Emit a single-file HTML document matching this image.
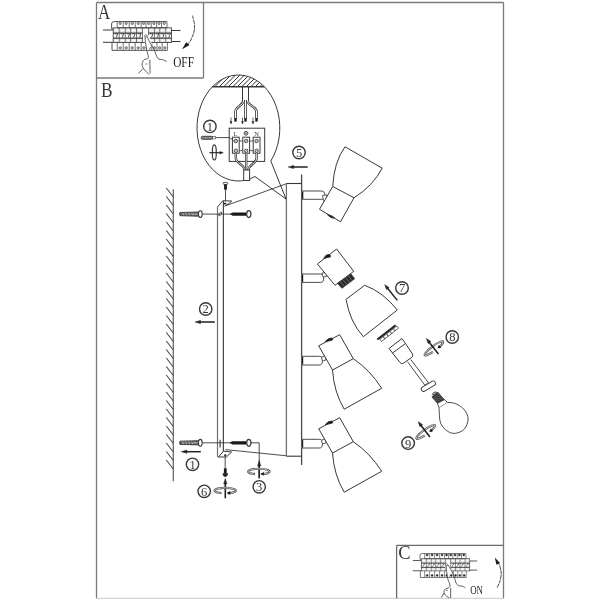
<!DOCTYPE html>
<html><head><meta charset="utf-8"><style>
html,body{margin:0;padding:0;background:#fff;}
svg{display:block;filter:grayscale(1);}
</style></head><body>
<svg width="600" height="600" viewBox="0 0 600 600">
<rect width="600" height="600" fill="#fff"/>
<line x1="96.5" y1="2.5" x2="503.5" y2="2.5" stroke="#7a7a7a" stroke-width="1.3" />
<line x1="96.5" y1="2.5" x2="96.5" y2="598.4" stroke="#7a7a7a" stroke-width="1.3" />
<line x1="503.5" y1="2.5" x2="503.5" y2="598.4" stroke="#7a7a7a" stroke-width="1.3" />
<line x1="96.5" y1="598.4" x2="503.5" y2="598.4" stroke="#d4d4d4" stroke-width="1.2" />
<line x1="96.5" y1="78" x2="203.5" y2="78" stroke="#7a7a7a" stroke-width="1.3" />
<line x1="203.5" y1="2.5" x2="203.5" y2="78" stroke="#7a7a7a" stroke-width="1.3" />
<line x1="396.6" y1="545.3" x2="503.5" y2="545.3" stroke="#6a6a6a" stroke-width="1.3" />
<line x1="396.6" y1="545.3" x2="396.6" y2="598.4" stroke="#6a6a6a" stroke-width="1.3" />
<text x="0" y="0" font-family="Liberation Serif" font-size="20" fill="#383838" transform="translate(98,19.2) scale(0.85,1)">A</text>
<text x="0" y="0" font-family="Liberation Serif" font-size="20.6" fill="#383838" transform="translate(101,96.7) scale(0.84,1)">B</text>
<text x="0" y="0" font-family="Liberation Serif" font-size="19" fill="#383838" transform="translate(398.3,558.6) scale(0.97,1)">C</text>
<line x1="173.3" y1="189.3" x2="173.3" y2="481.3" stroke="#6a6a6a" stroke-width="1.3" />
<line x1="166.3" y1="188.0" x2="173.3" y2="197.0" stroke="#4a4a4a" stroke-width="1.1" />
<line x1="166.3" y1="196.5" x2="173.3" y2="205.5" stroke="#4a4a4a" stroke-width="1.1" />
<line x1="166.3" y1="205.0" x2="173.3" y2="214.0" stroke="#4a4a4a" stroke-width="1.1" />
<line x1="166.3" y1="213.5" x2="173.3" y2="222.5" stroke="#4a4a4a" stroke-width="1.1" />
<line x1="166.3" y1="222.0" x2="173.3" y2="231.0" stroke="#4a4a4a" stroke-width="1.1" />
<line x1="166.3" y1="230.5" x2="173.3" y2="239.5" stroke="#4a4a4a" stroke-width="1.1" />
<line x1="166.3" y1="239.0" x2="173.3" y2="248.0" stroke="#4a4a4a" stroke-width="1.1" />
<line x1="166.3" y1="247.5" x2="173.3" y2="256.5" stroke="#4a4a4a" stroke-width="1.1" />
<line x1="166.3" y1="256.0" x2="173.3" y2="265.0" stroke="#4a4a4a" stroke-width="1.1" />
<line x1="166.3" y1="264.5" x2="173.3" y2="273.5" stroke="#4a4a4a" stroke-width="1.1" />
<line x1="166.3" y1="273.0" x2="173.3" y2="282.0" stroke="#4a4a4a" stroke-width="1.1" />
<line x1="166.3" y1="281.5" x2="173.3" y2="290.5" stroke="#4a4a4a" stroke-width="1.1" />
<line x1="166.3" y1="290.0" x2="173.3" y2="299.0" stroke="#4a4a4a" stroke-width="1.1" />
<line x1="166.3" y1="298.5" x2="173.3" y2="307.5" stroke="#4a4a4a" stroke-width="1.1" />
<line x1="166.3" y1="307.0" x2="173.3" y2="316.0" stroke="#4a4a4a" stroke-width="1.1" />
<line x1="166.3" y1="315.5" x2="173.3" y2="324.5" stroke="#4a4a4a" stroke-width="1.1" />
<line x1="166.3" y1="324.0" x2="173.3" y2="333.0" stroke="#4a4a4a" stroke-width="1.1" />
<line x1="166.3" y1="332.5" x2="173.3" y2="341.5" stroke="#4a4a4a" stroke-width="1.1" />
<line x1="166.3" y1="341.0" x2="173.3" y2="350.0" stroke="#4a4a4a" stroke-width="1.1" />
<line x1="166.3" y1="349.5" x2="173.3" y2="358.5" stroke="#4a4a4a" stroke-width="1.1" />
<line x1="166.3" y1="358.0" x2="173.3" y2="367.0" stroke="#4a4a4a" stroke-width="1.1" />
<line x1="166.3" y1="366.5" x2="173.3" y2="375.5" stroke="#4a4a4a" stroke-width="1.1" />
<line x1="166.3" y1="375.0" x2="173.3" y2="384.0" stroke="#4a4a4a" stroke-width="1.1" />
<line x1="166.3" y1="383.5" x2="173.3" y2="392.5" stroke="#4a4a4a" stroke-width="1.1" />
<line x1="166.3" y1="392.0" x2="173.3" y2="401.0" stroke="#4a4a4a" stroke-width="1.1" />
<line x1="166.3" y1="400.5" x2="173.3" y2="409.5" stroke="#4a4a4a" stroke-width="1.1" />
<line x1="166.3" y1="409.0" x2="173.3" y2="418.0" stroke="#4a4a4a" stroke-width="1.1" />
<line x1="166.3" y1="417.5" x2="173.3" y2="426.5" stroke="#4a4a4a" stroke-width="1.1" />
<line x1="166.3" y1="426.0" x2="173.3" y2="435.0" stroke="#4a4a4a" stroke-width="1.1" />
<line x1="166.3" y1="434.5" x2="173.3" y2="443.5" stroke="#4a4a4a" stroke-width="1.1" />
<line x1="166.3" y1="443.0" x2="173.3" y2="452.0" stroke="#4a4a4a" stroke-width="1.1" />
<line x1="166.3" y1="451.5" x2="173.3" y2="460.5" stroke="#4a4a4a" stroke-width="1.1" />
<line x1="166.3" y1="460.0" x2="173.3" y2="469.0" stroke="#4a4a4a" stroke-width="1.1" />
<line x1="217.5" y1="207" x2="217.5" y2="456.2" stroke="#6e6e6e" stroke-width="1.2" />
<line x1="223.4" y1="201" x2="223.4" y2="451.2" stroke="#474747" stroke-width="1.2" />
<path d="M217.5,456.2 Q217.5,457 218.4,457 L226.4,457 L231.6,452 L223.4,451.2 L218.4,457" stroke="#383838" stroke-width="1" fill="none" />
<ellipse cx="225.3" cy="455" rx="1.35" ry="0.85" fill="#1a1a1a"/>
<path d="M217.5,207 L222.7,200.8 L231.7,201 L229.5,203.3 L224.5,206.2" stroke="#383838" stroke-width="1" fill="none" />
<ellipse cx="220.2" cy="214" rx="0.9" ry="2.2" transform="rotate(35 220.2 214)" fill="none" stroke="#383838" stroke-width="0.8"/>
<line x1="220.1" y1="439.8" x2="220.1" y2="447.6" stroke="#383838" stroke-width="1.1" />
<rect x="223.7" y="202.8" width="2.6" height="1.6" fill="#1a1a1a"/>
<line x1="226" y1="205.6" x2="287" y2="183.5" stroke="#383838" stroke-width="0.9" />
<line x1="225.3" y1="449.6" x2="286.5" y2="455.8" stroke="#383838" stroke-width="0.9" />
<line x1="286.4" y1="183.5" x2="286.4" y2="456.2" stroke="#707070" stroke-width="1.3" />
<line x1="301.6" y1="174.4" x2="301.6" y2="465" stroke="#4a4a4a" stroke-width="1.3" />
<line x1="286.5" y1="183.5" x2="301.5" y2="183.5" stroke="#383838" stroke-width="1.1" />
<line x1="286.5" y1="456.2" x2="301.5" y2="456.2" stroke="#383838" stroke-width="1.1" />
<line x1="225.5" y1="189.7" x2="225.5" y2="201" stroke="#383838" stroke-width="0.9" />
<rect x="223.2" y="182.4" width="4.6" height="2" rx="0.8" fill="#fff" stroke="#383838" stroke-width="0.8"/>
<rect x="224.1" y="184.3" width="2.8" height="5.4" fill="#1a1a1a"/>
<line x1="202.3" y1="214.1" x2="232.3" y2="214.1" stroke="#383838" stroke-width="0.9" />
<path d="M180,212.5 L198.5,212.0 L198.5,216.2 L180,215.7 Q179,214.1 180,212.5 Z" fill="#666" stroke="#383838" stroke-width="0.9"/>
<line x1="182.5" y1="212.9" x2="183.7" y2="215.29999999999998" stroke="#ddd" stroke-width="0.7"/>
<line x1="185.5" y1="212.9" x2="186.7" y2="215.29999999999998" stroke="#ddd" stroke-width="0.7"/>
<line x1="188.5" y1="212.9" x2="189.7" y2="215.29999999999998" stroke="#ddd" stroke-width="0.7"/>
<line x1="191.5" y1="212.9" x2="192.7" y2="215.29999999999998" stroke="#ddd" stroke-width="0.7"/>
<line x1="193" y1="214.1" x2="198" y2="214.1" stroke="#ccc" stroke-width="0.8"/>
<ellipse cx="200.3" cy="214.1" rx="1.9" ry="3.4" fill="#fff" stroke="#383838" stroke-width="1.1"/>
<path d="M230,214.1 L232.6,212.5 L246.7,212.5 L246.7,215.7 L232.6,215.7 Z" fill="#1a1a1a"/>
<ellipse cx="248.8" cy="214.1" rx="2.1" ry="3.5" fill="#fff" stroke="#383838" stroke-width="1.2"/>
<line x1="202.3" y1="442.8" x2="232.3" y2="442.8" stroke="#383838" stroke-width="0.9" />
<path d="M180,441.2 L198.5,440.7 L198.5,444.90000000000003 L180,444.40000000000003 Q179,442.8 180,441.2 Z" fill="#666" stroke="#383838" stroke-width="0.9"/>
<line x1="182.5" y1="441.6" x2="183.7" y2="444.0" stroke="#ddd" stroke-width="0.7"/>
<line x1="185.5" y1="441.6" x2="186.7" y2="444.0" stroke="#ddd" stroke-width="0.7"/>
<line x1="188.5" y1="441.6" x2="189.7" y2="444.0" stroke="#ddd" stroke-width="0.7"/>
<line x1="191.5" y1="441.6" x2="192.7" y2="444.0" stroke="#ddd" stroke-width="0.7"/>
<line x1="193" y1="442.8" x2="198" y2="442.8" stroke="#ccc" stroke-width="0.8"/>
<ellipse cx="200.3" cy="442.8" rx="1.9" ry="3.4" fill="#fff" stroke="#383838" stroke-width="1.1"/>
<path d="M229.6,442.8 L232.4,441.2 L246.7,441.2 L246.7,444.4 L232.4,444.4 Z" fill="#1a1a1a"/>
<ellipse cx="248.8" cy="442.8" rx="2.1" ry="3.5" fill="#fff" stroke="#383838" stroke-width="1.2"/>
<path d="M251,442.8 L259.2,442.8 L259.2,478.3" stroke="#383838" stroke-width="0.9" fill="none" />
<line x1="225.2" y1="455" x2="225.2" y2="468.5" stroke="#383838" stroke-width="0.9" />
<rect x="223.9" y="468.3" width="2.8" height="5.5" fill="#1a1a1a"/>
<path d="M223,473.5 L227.5,473.5 Q227.5,476.5 225.2,476.5 Q223,476.5 223,473.5 Z" stroke="#383838" stroke-width="1" fill="#1a1a1a" />
<line x1="200.8" y1="451.7" x2="185.8" y2="451.7" stroke="#222" stroke-width="1.5" />
<polygon points="181.3,451.7 186.8,450.09999999999997 186.8,453.3" stroke="#222" stroke-width="0.5" fill="#222" stroke-linejoin="round"/>
<circle cx="192.5" cy="464.3" r="6.2" stroke="#383838" stroke-width="1.4" fill="#fff"/>
<text x="192.5" y="468.7" font-family="Liberation Serif" font-size="12.5" text-anchor="middle" fill="#383838" >1</text>
<line x1="214.8" y1="322" x2="199.5" y2="322.0" stroke="#222" stroke-width="1.5" />
<polygon points="195,322 200.5,320.4 200.5,323.6" stroke="#222" stroke-width="0.5" fill="#222" stroke-linejoin="round"/>
<circle cx="205.7" cy="309" r="6.2" stroke="#383838" stroke-width="1.4" fill="#fff"/>
<text x="205.7" y="313.4" font-family="Liberation Serif" font-size="12.5" text-anchor="middle" fill="#383838" >2</text>
<line x1="307.7" y1="167" x2="292.7" y2="167.0" stroke="#222" stroke-width="1.5" />
<polygon points="288.2,167 293.7,165.4 293.7,168.6" stroke="#222" stroke-width="0.5" fill="#222" stroke-linejoin="round"/>
<circle cx="299" cy="152.5" r="6.2" stroke="#383838" stroke-width="1.4" fill="#fff"/>
<text x="299" y="156.9" font-family="Liberation Serif" font-size="12.5" text-anchor="middle" fill="#383838" >5</text>
<line x1="259.2" y1="478.3" x2="259.2" y2="465.0" stroke="#222" stroke-width="1.6" />
<polygon points="259.2,460.5 260.8,466.0 257.59999999999997,466.0" stroke="#222" stroke-width="0.5" fill="#222" stroke-linejoin="round"/>
<g transform="rotate(0 259 471.5)"><path d="M254.934,474.16 A10.7,2.8 0 1 1 261.354,474.272" fill="none" stroke="#444" stroke-width="2.1"/><path d="M254.934,474.16 A10.7,2.8 0 1 1 261.354,474.272" fill="none" stroke="#fff" stroke-width="0.7"/><path d="M254.934,474.16 q-1.2,-0.3 -0.6,-1.4" fill="none" stroke="#444" stroke-width="0.9"/><path d="M260.284,473.88 l3.6,-1.9 l0,3.6 z" fill="#1a1a1a"/></g>
<circle cx="259.2" cy="486.8" r="6.2" stroke="#383838" stroke-width="1.4" fill="#fff"/>
<text x="259.2" y="491.2" font-family="Liberation Serif" font-size="12.5" text-anchor="middle" fill="#383838" >3</text>
<line x1="225.3" y1="498.3" x2="225.3" y2="483.0" stroke="#222" stroke-width="1.6" />
<polygon points="225.3,478.5 226.9,484.0 223.70000000000002,484.0" stroke="#222" stroke-width="0.5" fill="#222" stroke-linejoin="round"/>
<g transform="rotate(0 225.4 490.6)"><path d="M221.334,493.26000000000005 A10.7,2.8 0 1 1 227.75400000000002,493.372" fill="none" stroke="#444" stroke-width="2.1"/><path d="M221.334,493.26000000000005 A10.7,2.8 0 1 1 227.75400000000002,493.372" fill="none" stroke="#fff" stroke-width="0.7"/><path d="M221.334,493.26000000000005 q-1.2,-0.3 -0.6,-1.4" fill="none" stroke="#444" stroke-width="0.9"/><path d="M226.684,492.98 l3.6,-1.9 l0,3.6 z" fill="#1a1a1a"/></g>
<circle cx="204.2" cy="491.3" r="6.2" stroke="#383838" stroke-width="1.4" fill="#fff"/>
<text x="204.2" y="495.7" font-family="Liberation Serif" font-size="12.5" text-anchor="middle" fill="#383838" >6</text>
<path d="M255.0,176.55 A41.4,53 0 1 1 270.8,160.99" fill="none" stroke="#383838" stroke-width="1"/>
<line x1="255.0" y1="176.55" x2="286" y2="199" stroke="#383838" stroke-width="1" />
<line x1="270.8" y1="160.99" x2="286" y2="199" stroke="#383838" stroke-width="1" />
<clipPath id="ceil"><path d="M212.36,86.8 A41.4,53 0 0 1 264.44,86.8 Z"/></clipPath>
<g clip-path="url(#ceil)" stroke="#333" stroke-width="1.0"><line x1="200.0" y1="88" x2="214.0" y2="74" /><line x1="204.5" y1="88" x2="218.5" y2="74" /><line x1="209.0" y1="88" x2="223.0" y2="74" /><line x1="213.5" y1="88" x2="227.5" y2="74" /><line x1="218.0" y1="88" x2="232.0" y2="74" /><line x1="222.5" y1="88" x2="236.5" y2="74" /><line x1="227.0" y1="88" x2="241.0" y2="74" /><line x1="231.5" y1="88" x2="245.5" y2="74" /><line x1="236.0" y1="88" x2="250.0" y2="74" /><line x1="240.5" y1="88" x2="254.5" y2="74" /><line x1="245.0" y1="88" x2="259.0" y2="74" /><line x1="249.5" y1="88" x2="263.5" y2="74" /><line x1="254.0" y1="88" x2="268.0" y2="74" /><line x1="258.5" y1="88" x2="272.5" y2="74" /><line x1="263.0" y1="88" x2="277.0" y2="74" /><line x1="267.5" y1="88" x2="281.5" y2="74" /></g>
<line x1="212.36" y1="86.8" x2="264.44" y2="86.8" stroke="#383838" stroke-width="1.5" />
<line x1="242.5" y1="86.8" x2="242.5" y2="100.5" stroke="#383838" stroke-width="1" />
<line x1="248.5" y1="86.8" x2="248.5" y2="100.5" stroke="#383838" stroke-width="1" />
<path d="M243.6,100 C243.6,106 235.5,106 235.5,112 L235.5,118.5" fill="none" stroke="#383838" stroke-width="2.6" stroke-linecap="butt"/>
<path d="M243.6,100 C243.6,106 235.5,106 235.5,112 L235.5,118.5" fill="none" stroke="#fff" stroke-width="1.0" stroke-linecap="butt"/>
<path d="M245.5,100 L245.5,118.5" fill="none" stroke="#383838" stroke-width="2.6" stroke-linecap="butt"/>
<path d="M245.5,100 L245.5,118.5" fill="none" stroke="#fff" stroke-width="1.0" stroke-linecap="butt"/>
<path d="M247.4,100 C247.4,106 256.5,106 256.5,112 L256.5,118.5" fill="none" stroke="#383838" stroke-width="2.6" stroke-linecap="butt"/>
<path d="M247.4,100 C247.4,106 256.5,106 256.5,112 L256.5,118.5" fill="none" stroke="#fff" stroke-width="1.0" stroke-linecap="butt"/>
<rect x="234.3" y="118" width="2.4" height="3.6" fill="#1a1a1a"/>
<rect x="244.3" y="118" width="2.4" height="3.6" fill="#1a1a1a"/>
<rect x="255.3" y="118" width="2.4" height="3.6" fill="#1a1a1a"/>
<line x1="231" y1="117.5" x2="231.0" y2="122.5" stroke="#222" stroke-width="0.7" />
<polygon points="231,124 230.1,121.5 231.9,121.5" stroke="#222" stroke-width="0.5" fill="#222" stroke-linejoin="round"/>
<line x1="242.5" y1="117.5" x2="242.5" y2="122.5" stroke="#222" stroke-width="0.7" />
<polygon points="242.5,124 241.6,121.5 243.4,121.5" stroke="#222" stroke-width="0.5" fill="#222" stroke-linejoin="round"/>
<line x1="253" y1="117.5" x2="253.0" y2="122.5" stroke="#222" stroke-width="0.7" />
<polygon points="253,124 252.1,121.5 253.9,121.5" stroke="#222" stroke-width="0.5" fill="#222" stroke-linejoin="round"/>
<rect x="229.2" y="128.2" width="35.5" height="33.2" fill="#fff" stroke="#383838" stroke-width="1"/>
<text x="235.6" y="135.8" font-family="Liberation Serif" font-size="6.5" text-anchor="middle" fill="#383838" >L</text>
<circle cx="246" cy="133.3" r="1.9" fill="#fff" stroke="#383838" stroke-width="0.9"/>
<line x1="244.8" y1="133.3" x2="247.2" y2="133.3" stroke="#383838" stroke-width="0.6" />
<line x1="246" y1="132.1" x2="246" y2="134.5" stroke="#383838" stroke-width="0.6" />
<text x="256.6" y="135.8" font-family="Liberation Serif" font-size="6.5" text-anchor="middle" fill="#383838" >N</text>
<line x1="232.4" y1="141" x2="260" y2="141" stroke="#383838" stroke-width="0.8" />
<line x1="232.4" y1="150.6" x2="260" y2="150.6" stroke="#383838" stroke-width="0.8" />
<rect x="232.4" y="137.2" width="6.8" height="16" fill="#fff" stroke="#383838" stroke-width="1"/>
<circle cx="235.8" cy="141" r="1.7" fill="#fff" stroke="#383838" stroke-width="0.9"/>
<line x1="234.70000000000002" y1="142.1" x2="236.9" y2="139.9" stroke="#383838" stroke-width="0.6" />
<circle cx="235.8" cy="150.8" r="1.7" fill="#fff" stroke="#383838" stroke-width="0.9"/>
<line x1="234.70000000000002" y1="151.9" x2="236.9" y2="149.70000000000002" stroke="#383838" stroke-width="0.6" />
<rect x="242.8" y="137.2" width="6.8" height="16" fill="#fff" stroke="#383838" stroke-width="1"/>
<circle cx="246.20000000000002" cy="141" r="1.7" fill="#fff" stroke="#383838" stroke-width="0.9"/>
<line x1="245.10000000000002" y1="142.1" x2="247.3" y2="139.9" stroke="#383838" stroke-width="0.6" />
<circle cx="246.20000000000002" cy="150.8" r="1.7" fill="#fff" stroke="#383838" stroke-width="0.9"/>
<line x1="245.10000000000002" y1="151.9" x2="247.3" y2="149.70000000000002" stroke="#383838" stroke-width="0.6" />
<rect x="253.2" y="137.2" width="6.8" height="16" fill="#fff" stroke="#383838" stroke-width="1"/>
<circle cx="256.59999999999997" cy="141" r="1.7" fill="#fff" stroke="#383838" stroke-width="0.9"/>
<line x1="255.5" y1="142.1" x2="257.7" y2="139.9" stroke="#383838" stroke-width="0.6" />
<circle cx="256.59999999999997" cy="150.8" r="1.7" fill="#fff" stroke="#383838" stroke-width="0.9"/>
<line x1="255.5" y1="151.9" x2="257.7" y2="149.70000000000002" stroke="#383838" stroke-width="0.6" />
<path d="M235.8,153.2 L235.8,158 C235.8,164 244.5,164 244.5,170" fill="none" stroke="#383838" stroke-width="2.4" stroke-linecap="butt"/>
<path d="M235.8,153.2 L235.8,158 C235.8,164 244.5,164 244.5,170" fill="none" stroke="#fff" stroke-width="0.7999999999999998" stroke-linecap="butt"/>
<path d="M246.2,153.2 L246.2,170" fill="none" stroke="#383838" stroke-width="2.4" stroke-linecap="butt"/>
<path d="M246.2,153.2 L246.2,170" fill="none" stroke="#fff" stroke-width="0.7999999999999998" stroke-linecap="butt"/>
<path d="M256.6,153.2 L256.6,158 C256.6,164 248.6,164 248.6,170" fill="none" stroke="#383838" stroke-width="2.4" stroke-linecap="butt"/>
<path d="M256.6,153.2 L256.6,158 C256.6,164 248.6,164 248.6,170" fill="none" stroke="#fff" stroke-width="0.7999999999999998" stroke-linecap="butt"/>
<rect x="243.7" y="170" width="5.9" height="10.5" fill="#fff" stroke="#383838" stroke-width="1"/>
<rect x="201.2" y="136.3" width="11.6" height="3" rx="1.4" fill="#8a8a8a" stroke="#333" stroke-width="0.9"/>
<rect x="212.6" y="136.5" width="2.8" height="2.4" fill="#fff" stroke="#383838" stroke-width="0.6"/>
<line x1="215.4" y1="137.6" x2="229.5" y2="137.6" stroke="#383838" stroke-width="0.9" />
<line x1="229.5" y1="137.6" x2="233.6" y2="140.6" stroke="#383838" stroke-width="0.8" />
<circle cx="209.9" cy="126.4" r="6.2" stroke="#383838" stroke-width="1.4" fill="#fff"/>
<text x="209.9" y="130.8" font-family="Liberation Serif" font-size="12.5" text-anchor="middle" fill="#383838" >1</text>
<ellipse cx="214.3" cy="152.4" rx="2" ry="7.6" fill="none" stroke="#383838" stroke-width="1.2"/>
<line x1="209.3" y1="152.7" x2="220.8" y2="152.7" stroke="#222" stroke-width="1.1" />
<polygon points="223.3,152.7 219.8,154.0 219.8,151.39999999999998" stroke="#222" stroke-width="0.5" fill="#222" stroke-linejoin="round"/>
<path d="M301.8,191 L321.7,191 Q324.7,191 324.7,195.15 Q324.7,199.3 321.7,199.3 L301.8,199.3" fill="#fff" stroke="#383838" stroke-width="0.9"/>
<rect x="301.8" y="191.5" width="1.5" height="7.300000000000011" fill="#1a1a1a"/>
<polygon points="322.5,195.5 326.5,194.8 327.5,199.5 323.5,200.8" stroke="#383838" stroke-width="0.8" fill="#fff" stroke-linejoin="round"/>
<path d="M332.7,186.5 Q334,162 345,146.75 L382.2,168.2 Q373,186 354,197.75" stroke="#383838" stroke-width="1" fill="#fff" />
<polygon points="332.7,186.5 354,197.75 340.5,221.75 319.5,209.3" stroke="#383838" stroke-width="1" fill="#fff" stroke-linejoin="round"/>
<path d="M327,214.3 Q331,219 334.5,218 L333,216.5 Z" stroke="#383838" stroke-width="1" fill="#1a1a1a" />
<path d="M301.7,274 L320.7,274 Q323.7,274 323.7,278.2 Q323.7,282.4 320.7,282.4 L301.7,282.4" fill="#fff" stroke="#383838" stroke-width="0.9"/>
<rect x="301.7" y="274.5" width="1.5" height="7.399999999999977" fill="#1a1a1a"/>
<polygon points="322,273 326,272.5 326.5,276.5 323,277" stroke="#383838" stroke-width="0.8" fill="#fff" stroke-linejoin="round"/>
<polygon points="336.6,249 353.7,271.3 335,285.3 317.4,264" stroke="#383838" stroke-width="1" fill="#fff" stroke-linejoin="round"/>
<polygon points="337.4,283.3 351,274 354.7,278.7 342,288.3" stroke="#383838" stroke-width="0.8" fill="#2a2a2a" stroke-linejoin="round"/>
<line x1="340.12" y1="281.44" x2="344.54" y2="286.38" stroke="#999" stroke-width="0.6"/>
<line x1="342.84" y1="279.58" x2="347.08" y2="284.46" stroke="#999" stroke-width="0.6"/>
<line x1="345.56" y1="277.72" x2="349.62" y2="282.54" stroke="#999" stroke-width="0.6"/>
<line x1="348.28" y1="275.86" x2="352.16" y2="280.62" stroke="#999" stroke-width="0.6"/>
<path d="M323.8,258.4 Q325.5,254.2 329.8,254.5 L330.6,256.8 Z" stroke="#383838" stroke-width="1" fill="#1a1a1a" />
<path d="M301.7,356.3 L319.5,356.3 Q322.5,356.3 322.5,360.65 Q322.5,365 319.5,365 L301.7,365" fill="#fff" stroke="#383838" stroke-width="0.9"/>
<rect x="301.7" y="356.8" width="1.5" height="7.699999999999989" fill="#1a1a1a"/>
<polygon points="321.5,357 325,356 326,360 322.5,361" stroke="#383838" stroke-width="0.8" fill="#fff" stroke-linejoin="round"/>
<path d="M332.5,370 Q334,392 344.2,409.2 L381.7,388.3 Q370,370 353.3,358.7" stroke="#383838" stroke-width="1" fill="#fff" />
<polygon points="318.7,345.8 339.7,334.7 353.3,358.7 332.5,370" stroke="#383838" stroke-width="1" fill="#fff" stroke-linejoin="round"/>
<path d="M325,341.8 Q328,337.5 332.5,338 L332.5,340 Z" stroke="#383838" stroke-width="1" fill="#1a1a1a" />
<path d="M301.7,439.3 L319.5,439.3 Q322.5,439.3 322.5,443.65 Q322.5,448 319.5,448 L301.7,448" fill="#fff" stroke="#383838" stroke-width="0.9"/>
<rect x="301.7" y="439.8" width="1.5" height="7.699999999999989" fill="#1a1a1a"/>
<polygon points="321.5,440 325,439 326,443 322.5,444" stroke="#383838" stroke-width="0.8" fill="#fff" stroke-linejoin="round"/>
<path d="M332.5,453 Q334,475 344.2,492.2 L381.7,471.3 Q370,453 353.3,441.7" stroke="#383838" stroke-width="1" fill="#fff" />
<polygon points="318.7,428.8 339.7,417.7 353.3,441.7 332.5,453" stroke="#383838" stroke-width="1" fill="#fff" stroke-linejoin="round"/>
<path d="M325,424.8 Q328,420.5 332.5,421 L332.5,423 Z" stroke="#383838" stroke-width="1" fill="#1a1a1a" />
<path d="M364.7,285.3 L346,299.3 Q350,322 363.3,336.7 L397.3,310 Q383,292 364.7,285.3 Z" stroke="#383838" stroke-width="1" fill="#fff" />
<line x1="397.3" y1="300.4" x2="387.20362353069845" y2="287.81959439936236" stroke="#222" stroke-width="1.5" />
<polygon points="384.7,284.7 389.077367173118,287.59804358692355 386.5816916536281,289.6009424114823" stroke="#222" stroke-width="0.5" fill="#222" stroke-linejoin="round"/>
<circle cx="402" cy="288" r="6.3" stroke="#383838" stroke-width="1.4" fill="#fff"/>
<text x="402" y="292.4" font-family="Liberation Serif" font-size="12.5" text-anchor="middle" fill="#383838" >7</text>
<polygon points="379.8,339.3 396.8,326.0 398.5,328.2 381.5,341.5" stroke="#383838" stroke-width="0.8" fill="#fff" stroke-linejoin="round"/>
<line x1="383.2" y1="336.64" x2="384.9" y2="338.84" stroke="#333" stroke-width="1.0" />
<line x1="386.6" y1="333.98" x2="388.3" y2="336.18" stroke="#333" stroke-width="1.0" />
<line x1="390.0" y1="331.32" x2="391.7" y2="333.52" stroke="#333" stroke-width="1.0" />
<line x1="393.40000000000003" y1="328.66" x2="395.1" y2="330.86" stroke="#333" stroke-width="1.0" />
<line x1="377.3" y1="339.6" x2="395.6" y2="325.3" stroke="#222" stroke-width="1.9" />
<path d="M392.5,353 L400,362.5 Q401.5,364.5 403.5,363.2 L411.5,357.5 Q413.5,356 412.5,354 L405.5,343.5" stroke="#383838" stroke-width="1" fill="#fff" />
<path d="M389,348.5 L402,338.5 L405.5,343.5 L392.5,353 Z" stroke="#383838" stroke-width="1" fill="#fff" />
<path d="M407.5,361.7 L425,385.4 M410.8,359.6 L428.3,382.5" stroke="#383838" stroke-width="0.9" fill="none" />
<rect x="420.4" y="383.9" width="15.8" height="4.6" rx="2.3" transform="rotate(-31 428.3 386.2)" fill="#fff" stroke="#383838" stroke-width="0.9"/>
<line x1="425" y1="385.4" x2="428.3" y2="382.5" stroke="#383838" stroke-width="0.9" />
<path d="M432.3,394.5 Q433,391.5 436.5,392 L437.5,393.5 Z" fill="#fff" stroke="#383838" stroke-width="0.9"/>
<polygon points="431.9,396.9 437.8,392.3 444.3,399.7 437.4,403.3" stroke="#383838" stroke-width="0.9" fill="#333" stroke-linejoin="round"/>
<line x1="433.0" y1="398.18" x2="439.1" y2="393.78000000000003" stroke="#888" stroke-width="0.5" />
<line x1="434.09999999999997" y1="399.46" x2="440.40000000000003" y2="395.26" stroke="#888" stroke-width="0.5" />
<line x1="435.2" y1="400.74" x2="441.7" y2="396.74" stroke="#888" stroke-width="0.5" />
<line x1="436.29999999999995" y1="402.02" x2="443.0" y2="398.21999999999997" stroke="#888" stroke-width="0.5" />
<polygon points="437.4,403.3 444.3,399.7 447.5,402.4 439.2,408" stroke="#383838" stroke-width="0.9" fill="#fff" stroke-linejoin="round"/>
<path d="M439.20,408.00 C439.22,408.83 439.03,410.42 439.30,413.00 C439.57,415.58 439.43,420.47 440.80,423.50 C442.17,426.53 445.08,429.57 447.50,431.20 C449.92,432.83 452.52,433.63 455.30,433.30 C458.08,432.97 462.07,431.58 464.20,429.20 C466.33,426.82 468.07,422.23 468.10,419.00 C468.13,415.77 466.45,412.35 464.40,409.80 C462.35,407.25 458.62,404.93 455.80,403.70 C452.98,402.47 448.88,402.62 447.50,402.40" fill="#fff" stroke="#383838" stroke-width="0.9"/>
<g transform="rotate(-36.6 434.3 348)"><path d="M430.88,350.4 A11.4,2.4 0 1 1 437.72,350.328" fill="none" stroke="#444" stroke-width="2.1"/><path d="M430.88,350.4 A11.4,2.4 0 1 1 437.72,350.328" fill="none" stroke="#fff" stroke-width="0.7"/><path d="M436.58,350.16 l3.4,-1.9 l0,3.6 z" fill="#1a1a1a"/></g>
<line x1="438.4" y1="353.9" x2="428.8585983070499" y2="341.65520116071406" stroke="#222" stroke-width="1.6" />
<polygon points="426.4,338.5 430.81420837711585,341.3990971703964 428.13228739050885,343.4889057313888" stroke="#222" stroke-width="0.5" fill="#222" stroke-linejoin="round"/>
<circle cx="452.25" cy="337" r="6.2" stroke="#383838" stroke-width="1.4" fill="#fff"/>
<text x="452.25" y="341.4" font-family="Liberation Serif" font-size="12.5" text-anchor="middle" fill="#383838" >8</text>
<g transform="rotate(-35.8 426.1 431.5)"><path d="M422.68,433.9 A11.4,2.4 0 1 1 429.52000000000004,433.828" fill="none" stroke="#444" stroke-width="2.1"/><path d="M422.68,433.9 A11.4,2.4 0 1 1 429.52000000000004,433.828" fill="none" stroke="#fff" stroke-width="0.7"/><path d="M428.38,433.66 l3.4,-1.9 l0,3.6 z" fill="#1a1a1a"/></g>
<line x1="429.9" y1="437.1" x2="420.66822733682847" y2="424.9362480360787" stroke="#222" stroke-width="1.6" />
<polygon points="418.25,421.75 422.6269395863691,424.7050634269463 419.9186287557021,426.7605566632505" stroke="#222" stroke-width="0.5" fill="#222" stroke-linejoin="round"/>
<circle cx="408.1" cy="443.1" r="6.3" stroke="#383838" stroke-width="1.4" fill="#fff"/>
<text x="408.1" y="447.5" font-family="Liberation Serif" font-size="12.5" text-anchor="middle" fill="#383838" >9</text>
<g transform="translate(111.6,21.25)"><line x1="-8.6" y1="8.75" x2="1.6" y2="8.75" stroke="#383838" stroke-width="1"/><line x1="-8.6" y1="21.05" x2="1.6" y2="21.05" stroke="#383838" stroke-width="1"/><line x1="59.9" y1="9.25" x2="68.9" y2="9.25" stroke="#383838" stroke-width="1"/><line x1="59.9" y1="20.25" x2="68.9" y2="20.25" stroke="#383838" stroke-width="1"/><path d="M0,7.6 L0,2.6 Q0,0.3 2.6,0.3 L55.4,0.3 M0,7.6 L1.6,7.6 M0.4,21.3 L0.4,29.1 L55.8,29.1" fill="none" stroke="#383838" stroke-width="0.85"/><rect x="1.6" y="6.6" width="58.3" height="14.6" fill="#fff" stroke="#383838" stroke-width="0.85"/><line x1="5.6" y1="0.3" x2="5.6" y2="6.6" stroke="#383838" stroke-width="0.7"/><line x1="11.6" y1="0.3" x2="11.6" y2="6.6" stroke="#383838" stroke-width="0.7"/><line x1="17.6" y1="0.3" x2="17.6" y2="6.6" stroke="#383838" stroke-width="0.7"/><line x1="23.6" y1="0.3" x2="23.6" y2="6.6" stroke="#383838" stroke-width="0.7"/><line x1="29.6" y1="0.3" x2="29.6" y2="6.6" stroke="#383838" stroke-width="0.7"/><line x1="34.4" y1="0.3" x2="34.4" y2="6.6" stroke="#383838" stroke-width="0.7"/><line x1="39.6" y1="0.3" x2="39.6" y2="6.6" stroke="#383838" stroke-width="0.7"/><line x1="45" y1="0.3" x2="45" y2="6.6" stroke="#383838" stroke-width="0.7"/><line x1="50" y1="0.3" x2="50" y2="6.6" stroke="#383838" stroke-width="0.7"/><line x1="55.4" y1="0.3" x2="55.4" y2="6.6" stroke="#383838" stroke-width="0.7"/><line x1="5.6" y1="6.6" x2="55.4" y2="6.6" stroke="#383838" stroke-width="0.8"/><circle cx="8.6" cy="2.1" r="1.15" fill="#fff" stroke="#383838" stroke-width="0.75"/><circle cx="8.6" cy="2.1" r="0.45" fill="#222"/><circle cx="14.600000000000001" cy="2.1" r="1.15" fill="#fff" stroke="#383838" stroke-width="0.75"/><circle cx="14.600000000000001" cy="2.1" r="0.45" fill="#222"/><circle cx="20.6" cy="2.1" r="1.15" fill="#fff" stroke="#383838" stroke-width="0.75"/><circle cx="20.6" cy="2.1" r="0.45" fill="#222"/><circle cx="26.6" cy="2.1" r="1.15" fill="#fff" stroke="#383838" stroke-width="0.75"/><circle cx="26.6" cy="2.1" r="0.45" fill="#222"/><circle cx="32.0" cy="2.1" r="1.15" fill="#fff" stroke="#383838" stroke-width="0.75"/><circle cx="32.0" cy="2.1" r="0.45" fill="#222"/><circle cx="37.0" cy="2.1" r="1.15" fill="#fff" stroke="#383838" stroke-width="0.75"/><circle cx="37.0" cy="2.1" r="0.45" fill="#222"/><circle cx="42.3" cy="2.1" r="1.15" fill="#fff" stroke="#383838" stroke-width="0.75"/><circle cx="42.3" cy="2.1" r="0.45" fill="#222"/><circle cx="47.5" cy="2.1" r="1.15" fill="#fff" stroke="#383838" stroke-width="0.75"/><circle cx="47.5" cy="2.1" r="0.45" fill="#222"/><circle cx="52.7" cy="2.1" r="1.15" fill="#fff" stroke="#383838" stroke-width="0.75"/><circle cx="52.7" cy="2.1" r="0.45" fill="#222"/><line x1="7.6" y1="6.6" x2="7.6" y2="21.2" stroke="#383838" stroke-width="0.7"/><line x1="13.6" y1="6.6" x2="13.6" y2="21.2" stroke="#383838" stroke-width="0.7"/><line x1="19.0" y1="6.6" x2="19.0" y2="21.2" stroke="#383838" stroke-width="0.7"/><line x1="24.9" y1="6.6" x2="24.9" y2="21.2" stroke="#383838" stroke-width="0.7"/><line x1="30.9" y1="6.6" x2="30.9" y2="21.2" stroke="#383838" stroke-width="0.7"/><line x1="36.9" y1="6.6" x2="36.9" y2="21.2" stroke="#383838" stroke-width="0.7"/><line x1="42.8" y1="6.6" x2="42.8" y2="21.2" stroke="#383838" stroke-width="0.7"/><line x1="48.2" y1="6.6" x2="48.2" y2="21.2" stroke="#383838" stroke-width="0.7"/><line x1="54.2" y1="6.6" x2="54.2" y2="21.2" stroke="#383838" stroke-width="0.7"/><rect x="2.6" y="7.8" width="4.0" height="2.4" fill="none" stroke="#c8c8c8" stroke-width="0.5"/><rect x="2.6" y="17.8" width="4.0" height="2.4" fill="none" stroke="#c8c8c8" stroke-width="0.5"/><path d="M2.8,12.5 L6.0,12.5 L4.6,16.4" stroke="#383838" stroke-width="0.9" fill="none"/><rect x="8.6" y="7.8" width="4.0" height="2.4" fill="none" stroke="#c8c8c8" stroke-width="0.5"/><rect x="8.6" y="17.8" width="4.0" height="2.4" fill="none" stroke="#c8c8c8" stroke-width="0.5"/><path d="M8.799999999999999,12.5 L12.0,12.5 L10.6,16.4" stroke="#383838" stroke-width="0.9" fill="none"/><rect x="14.6" y="7.8" width="3.4000000000000004" height="2.4" fill="none" stroke="#c8c8c8" stroke-width="0.5"/><rect x="14.6" y="17.8" width="3.4000000000000004" height="2.4" fill="none" stroke="#c8c8c8" stroke-width="0.5"/><path d="M14.799999999999999,12.5 L18.0,12.5 L16.6,16.4" stroke="#383838" stroke-width="0.9" fill="none"/><rect x="20.0" y="7.8" width="3.8999999999999986" height="2.4" fill="none" stroke="#c8c8c8" stroke-width="0.5"/><rect x="20.0" y="17.8" width="3.8999999999999986" height="2.4" fill="none" stroke="#c8c8c8" stroke-width="0.5"/><path d="M20.2,12.5 L23.4,12.5 L22.0,16.4" stroke="#383838" stroke-width="0.9" fill="none"/><rect x="25.9" y="7.8" width="4.0" height="2.4" fill="none" stroke="#c8c8c8" stroke-width="0.5"/><rect x="25.9" y="17.8" width="4.0" height="2.4" fill="none" stroke="#c8c8c8" stroke-width="0.5"/><path d="M26.099999999999998,12.5 L29.299999999999997,12.5 L27.9,16.4" stroke="#383838" stroke-width="0.9" fill="none"/><rect x="37.9" y="7.8" width="3.8999999999999986" height="2.4" fill="none" stroke="#c8c8c8" stroke-width="0.5"/><rect x="37.9" y="17.8" width="3.8999999999999986" height="2.4" fill="none" stroke="#c8c8c8" stroke-width="0.5"/><path d="M38.1,12.5 L41.3,12.5 L39.9,16.4" stroke="#383838" stroke-width="0.9" fill="none"/><rect x="43.8" y="7.8" width="3.4000000000000057" height="2.4" fill="none" stroke="#c8c8c8" stroke-width="0.5"/><rect x="43.8" y="17.8" width="3.4000000000000057" height="2.4" fill="none" stroke="#c8c8c8" stroke-width="0.5"/><path d="M44.0,12.5 L47.199999999999996,12.5 L45.8,16.4" stroke="#383838" stroke-width="0.9" fill="none"/><rect x="49.2" y="7.8" width="4.0" height="2.4" fill="none" stroke="#c8c8c8" stroke-width="0.5"/><rect x="49.2" y="17.8" width="4.0" height="2.4" fill="none" stroke="#c8c8c8" stroke-width="0.5"/><path d="M49.400000000000006,12.5 L52.6,12.5 L51.2,16.4" stroke="#383838" stroke-width="0.9" fill="none"/><rect x="55.2" y="7.8" width="3.6999999999999957" height="2.4" fill="none" stroke="#c8c8c8" stroke-width="0.5"/><rect x="55.2" y="17.8" width="3.6999999999999957" height="2.4" fill="none" stroke="#c8c8c8" stroke-width="0.5"/><path d="M55.400000000000006,12.5 L58.6,12.5 L57.2,16.4" stroke="#383838" stroke-width="0.9" fill="none"/><line x1="1.6" y1="11.8" x2="30.9" y2="11.8" stroke="#383838" stroke-width="1.2"/><line x1="1.6" y1="16.9" x2="30.9" y2="16.9" stroke="#383838" stroke-width="1.2"/><line x1="36.9" y1="11.8" x2="59.9" y2="11.8" stroke="#383838" stroke-width="1.2"/><line x1="36.9" y1="16.9" x2="59.9" y2="16.9" stroke="#383838" stroke-width="1.2"/><line x1="5.6" y1="21.2" x2="5.6" y2="29.1" stroke="#383838" stroke-width="0.7"/><line x1="11.6" y1="21.2" x2="11.6" y2="29.1" stroke="#383838" stroke-width="0.7"/><line x1="17.6" y1="21.2" x2="17.6" y2="29.1" stroke="#383838" stroke-width="0.7"/><line x1="23.6" y1="21.2" x2="23.6" y2="29.1" stroke="#383838" stroke-width="0.7"/><line x1="29.6" y1="21.2" x2="29.6" y2="29.1" stroke="#383838" stroke-width="0.7"/><line x1="35.0" y1="21.2" x2="35.0" y2="29.1" stroke="#383838" stroke-width="0.7"/><line x1="40.2" y1="21.2" x2="40.2" y2="29.1" stroke="#383838" stroke-width="0.7"/><line x1="45.4" y1="21.2" x2="45.4" y2="29.1" stroke="#383838" stroke-width="0.7"/><line x1="50.6" y1="21.2" x2="50.6" y2="29.1" stroke="#383838" stroke-width="0.7"/><line x1="55.8" y1="21.2" x2="55.8" y2="29.1" stroke="#383838" stroke-width="0.7"/><circle cx="8.6" cy="26.6" r="1.15" fill="#fff" stroke="#383838" stroke-width="0.75"/><circle cx="8.6" cy="26.6" r="0.45" fill="#222"/><circle cx="14.600000000000001" cy="26.6" r="1.15" fill="#fff" stroke="#383838" stroke-width="0.75"/><circle cx="14.600000000000001" cy="26.6" r="0.45" fill="#222"/><circle cx="20.6" cy="26.6" r="1.15" fill="#fff" stroke="#383838" stroke-width="0.75"/><circle cx="20.6" cy="26.6" r="0.45" fill="#222"/><circle cx="26.6" cy="26.6" r="1.15" fill="#fff" stroke="#383838" stroke-width="0.75"/><circle cx="26.6" cy="26.6" r="0.45" fill="#222"/><circle cx="32.3" cy="26.6" r="1.15" fill="#fff" stroke="#383838" stroke-width="0.75"/><circle cx="32.3" cy="26.6" r="0.45" fill="#222"/><circle cx="37.6" cy="26.6" r="1.15" fill="#fff" stroke="#383838" stroke-width="0.75"/><circle cx="37.6" cy="26.6" r="0.45" fill="#222"/><circle cx="42.8" cy="26.6" r="1.15" fill="#fff" stroke="#383838" stroke-width="0.75"/><circle cx="42.8" cy="26.6" r="0.45" fill="#222"/><circle cx="48.0" cy="26.6" r="1.15" fill="#fff" stroke="#383838" stroke-width="0.75"/><circle cx="48.0" cy="26.6" r="0.45" fill="#222"/><circle cx="53.2" cy="26.6" r="1.15" fill="#fff" stroke="#383838" stroke-width="0.75"/><circle cx="53.2" cy="26.6" r="0.45" fill="#222"/></g>
<g transform="translate(420,553.3) scale(0.83)"><line x1="-8.6" y1="8.75" x2="1.6" y2="8.75" stroke="#383838" stroke-width="1"/><line x1="-8.6" y1="21.05" x2="1.6" y2="21.05" stroke="#383838" stroke-width="1"/><line x1="59.9" y1="9.25" x2="68.9" y2="9.25" stroke="#383838" stroke-width="1"/><line x1="59.9" y1="20.25" x2="68.9" y2="20.25" stroke="#383838" stroke-width="1"/><path d="M0,7.6 L0,2.6 Q0,0.3 2.6,0.3 L55.4,0.3 M0,7.6 L1.6,7.6 M0.4,21.3 L0.4,29.1 L55.8,29.1" fill="none" stroke="#383838" stroke-width="0.85"/><rect x="1.6" y="6.6" width="58.3" height="14.6" fill="#fff" stroke="#383838" stroke-width="0.85"/><line x1="5.6" y1="0.3" x2="5.6" y2="6.6" stroke="#383838" stroke-width="0.7"/><line x1="11.6" y1="0.3" x2="11.6" y2="6.6" stroke="#383838" stroke-width="0.7"/><line x1="17.6" y1="0.3" x2="17.6" y2="6.6" stroke="#383838" stroke-width="0.7"/><line x1="23.6" y1="0.3" x2="23.6" y2="6.6" stroke="#383838" stroke-width="0.7"/><line x1="29.6" y1="0.3" x2="29.6" y2="6.6" stroke="#383838" stroke-width="0.7"/><line x1="34.4" y1="0.3" x2="34.4" y2="6.6" stroke="#383838" stroke-width="0.7"/><line x1="39.6" y1="0.3" x2="39.6" y2="6.6" stroke="#383838" stroke-width="0.7"/><line x1="45" y1="0.3" x2="45" y2="6.6" stroke="#383838" stroke-width="0.7"/><line x1="50" y1="0.3" x2="50" y2="6.6" stroke="#383838" stroke-width="0.7"/><line x1="55.4" y1="0.3" x2="55.4" y2="6.6" stroke="#383838" stroke-width="0.7"/><line x1="5.6" y1="6.6" x2="55.4" y2="6.6" stroke="#383838" stroke-width="0.8"/><circle cx="8.6" cy="2.1" r="1.15" fill="#222" stroke="#383838" stroke-width="0.75"/><circle cx="14.600000000000001" cy="2.1" r="1.15" fill="#222" stroke="#383838" stroke-width="0.75"/><circle cx="20.6" cy="2.1" r="1.15" fill="#222" stroke="#383838" stroke-width="0.75"/><circle cx="26.6" cy="2.1" r="1.15" fill="#222" stroke="#383838" stroke-width="0.75"/><circle cx="32.0" cy="2.1" r="1.15" fill="#222" stroke="#383838" stroke-width="0.75"/><circle cx="37.0" cy="2.1" r="1.15" fill="#222" stroke="#383838" stroke-width="0.75"/><circle cx="42.3" cy="2.1" r="1.15" fill="#222" stroke="#383838" stroke-width="0.75"/><circle cx="47.5" cy="2.1" r="1.15" fill="#222" stroke="#383838" stroke-width="0.75"/><circle cx="52.7" cy="2.1" r="1.15" fill="#222" stroke="#383838" stroke-width="0.75"/><line x1="7.6" y1="6.6" x2="7.6" y2="21.2" stroke="#383838" stroke-width="0.7"/><line x1="13.6" y1="6.6" x2="13.6" y2="21.2" stroke="#383838" stroke-width="0.7"/><line x1="19.0" y1="6.6" x2="19.0" y2="21.2" stroke="#383838" stroke-width="0.7"/><line x1="24.9" y1="6.6" x2="24.9" y2="21.2" stroke="#383838" stroke-width="0.7"/><line x1="30.9" y1="6.6" x2="30.9" y2="21.2" stroke="#383838" stroke-width="0.7"/><line x1="36.9" y1="6.6" x2="36.9" y2="21.2" stroke="#383838" stroke-width="0.7"/><line x1="42.8" y1="6.6" x2="42.8" y2="21.2" stroke="#383838" stroke-width="0.7"/><line x1="48.2" y1="6.6" x2="48.2" y2="21.2" stroke="#383838" stroke-width="0.7"/><line x1="54.2" y1="6.6" x2="54.2" y2="21.2" stroke="#383838" stroke-width="0.7"/><rect x="2.6" y="7.8" width="4.0" height="2.4" fill="none" stroke="#c8c8c8" stroke-width="0.5"/><rect x="2.6" y="17.8" width="4.0" height="2.4" fill="none" stroke="#c8c8c8" stroke-width="0.5"/><path d="M2.8,16.2 L5.800000000000001,12.6 M4.0,12.6 L6.0,12.6" stroke="#383838" stroke-width="0.8" fill="none"/><rect x="8.6" y="7.8" width="4.0" height="2.4" fill="none" stroke="#c8c8c8" stroke-width="0.5"/><rect x="8.6" y="17.8" width="4.0" height="2.4" fill="none" stroke="#c8c8c8" stroke-width="0.5"/><path d="M8.799999999999999,16.2 L11.8,12.6 M10.0,12.6 L12.0,12.6" stroke="#383838" stroke-width="0.8" fill="none"/><rect x="14.6" y="7.8" width="3.4000000000000004" height="2.4" fill="none" stroke="#c8c8c8" stroke-width="0.5"/><rect x="14.6" y="17.8" width="3.4000000000000004" height="2.4" fill="none" stroke="#c8c8c8" stroke-width="0.5"/><path d="M14.799999999999999,16.2 L17.8,12.6 M16.0,12.6 L18.0,12.6" stroke="#383838" stroke-width="0.8" fill="none"/><rect x="20.0" y="7.8" width="3.8999999999999986" height="2.4" fill="none" stroke="#c8c8c8" stroke-width="0.5"/><rect x="20.0" y="17.8" width="3.8999999999999986" height="2.4" fill="none" stroke="#c8c8c8" stroke-width="0.5"/><path d="M20.2,16.2 L23.2,12.6 M21.4,12.6 L23.4,12.6" stroke="#383838" stroke-width="0.8" fill="none"/><rect x="25.9" y="7.8" width="4.0" height="2.4" fill="none" stroke="#c8c8c8" stroke-width="0.5"/><rect x="25.9" y="17.8" width="4.0" height="2.4" fill="none" stroke="#c8c8c8" stroke-width="0.5"/><path d="M26.099999999999998,16.2 L29.099999999999998,12.6 M27.299999999999997,12.6 L29.299999999999997,12.6" stroke="#383838" stroke-width="0.8" fill="none"/><rect x="37.9" y="7.8" width="3.8999999999999986" height="2.4" fill="none" stroke="#c8c8c8" stroke-width="0.5"/><rect x="37.9" y="17.8" width="3.8999999999999986" height="2.4" fill="none" stroke="#c8c8c8" stroke-width="0.5"/><path d="M38.1,16.2 L41.1,12.6 M39.3,12.6 L41.3,12.6" stroke="#383838" stroke-width="0.8" fill="none"/><rect x="43.8" y="7.8" width="3.4000000000000057" height="2.4" fill="none" stroke="#c8c8c8" stroke-width="0.5"/><rect x="43.8" y="17.8" width="3.4000000000000057" height="2.4" fill="none" stroke="#c8c8c8" stroke-width="0.5"/><path d="M44.0,16.2 L47.0,12.6 M45.199999999999996,12.6 L47.199999999999996,12.6" stroke="#383838" stroke-width="0.8" fill="none"/><rect x="49.2" y="7.8" width="4.0" height="2.4" fill="none" stroke="#c8c8c8" stroke-width="0.5"/><rect x="49.2" y="17.8" width="4.0" height="2.4" fill="none" stroke="#c8c8c8" stroke-width="0.5"/><path d="M49.400000000000006,16.2 L52.400000000000006,12.6 M50.6,12.6 L52.6,12.6" stroke="#383838" stroke-width="0.8" fill="none"/><rect x="55.2" y="7.8" width="3.6999999999999957" height="2.4" fill="none" stroke="#c8c8c8" stroke-width="0.5"/><rect x="55.2" y="17.8" width="3.6999999999999957" height="2.4" fill="none" stroke="#c8c8c8" stroke-width="0.5"/><path d="M55.400000000000006,16.2 L58.400000000000006,12.6 M56.6,12.6 L58.6,12.6" stroke="#383838" stroke-width="0.8" fill="none"/><line x1="1.6" y1="11.8" x2="30.9" y2="11.8" stroke="#383838" stroke-width="1.2"/><line x1="1.6" y1="16.9" x2="30.9" y2="16.9" stroke="#383838" stroke-width="1.2"/><line x1="36.9" y1="11.8" x2="59.9" y2="11.8" stroke="#383838" stroke-width="1.2"/><line x1="36.9" y1="16.9" x2="59.9" y2="16.9" stroke="#383838" stroke-width="1.2"/><line x1="5.6" y1="21.2" x2="5.6" y2="29.1" stroke="#383838" stroke-width="0.7"/><line x1="11.6" y1="21.2" x2="11.6" y2="29.1" stroke="#383838" stroke-width="0.7"/><line x1="17.6" y1="21.2" x2="17.6" y2="29.1" stroke="#383838" stroke-width="0.7"/><line x1="23.6" y1="21.2" x2="23.6" y2="29.1" stroke="#383838" stroke-width="0.7"/><line x1="29.6" y1="21.2" x2="29.6" y2="29.1" stroke="#383838" stroke-width="0.7"/><line x1="35.0" y1="21.2" x2="35.0" y2="29.1" stroke="#383838" stroke-width="0.7"/><line x1="40.2" y1="21.2" x2="40.2" y2="29.1" stroke="#383838" stroke-width="0.7"/><line x1="45.4" y1="21.2" x2="45.4" y2="29.1" stroke="#383838" stroke-width="0.7"/><line x1="50.6" y1="21.2" x2="50.6" y2="29.1" stroke="#383838" stroke-width="0.7"/><line x1="55.8" y1="21.2" x2="55.8" y2="29.1" stroke="#383838" stroke-width="0.7"/><circle cx="8.6" cy="26.6" r="1.15" fill="#222" stroke="#383838" stroke-width="0.75"/><circle cx="14.600000000000001" cy="26.6" r="1.15" fill="#222" stroke="#383838" stroke-width="0.75"/><circle cx="20.6" cy="26.6" r="1.15" fill="#222" stroke="#383838" stroke-width="0.75"/><circle cx="26.6" cy="26.6" r="1.15" fill="#222" stroke="#383838" stroke-width="0.75"/><circle cx="32.3" cy="26.6" r="1.15" fill="#222" stroke="#383838" stroke-width="0.75"/><circle cx="37.6" cy="26.6" r="1.15" fill="#222" stroke="#383838" stroke-width="0.75"/><circle cx="42.8" cy="26.6" r="1.15" fill="#222" stroke="#383838" stroke-width="0.75"/><circle cx="48.0" cy="26.6" r="1.15" fill="#222" stroke="#383838" stroke-width="0.75"/><circle cx="53.2" cy="26.6" r="1.15" fill="#222" stroke="#383838" stroke-width="0.75"/></g>
<path d="M144.3,35 L148.4,34.8 L152,44 L147.5,51 L145,44 Z" fill="#fff"/>
<path d="M145.00,36.60 C145.13,37.95 145.45,42.25 145.80,44.70 C146.15,47.15 146.68,49.29 147.10,51.30 C147.52,53.31 148.17,55.57 148.30,56.75 C148.43,57.93 148.58,57.91 147.90,58.40 C147.22,58.89 145.10,59.07 144.20,59.70 C143.30,60.33 142.85,61.23 142.50,62.20 C142.15,63.17 141.89,64.40 142.10,65.50 C142.31,66.60 142.98,67.68 143.75,68.80 C144.52,69.92 145.79,71.28 146.70,72.20 C147.61,73.12 148.78,73.95 149.20,74.30" fill="none" stroke="#383838" stroke-width="0.8"/>
<path d="M147.10,36.60 C147.45,37.38 148.43,39.82 149.20,41.30 C149.97,42.78 150.87,44.10 151.70,45.50 C152.53,46.90 153.58,48.45 154.20,49.70 C154.82,50.95 154.98,51.90 155.40,53.00 C155.82,54.10 156.14,55.26 156.70,56.30 C157.26,57.34 157.92,58.72 158.75,59.25 C159.58,59.78 160.66,59.29 161.70,59.50 C162.74,59.71 164.17,60.08 165.00,60.50 C165.83,60.92 166.42,61.75 166.70,62.00" fill="none" stroke="#383838" stroke-width="0.8"/>
<line x1="149.8" y1="59.7" x2="150.1" y2="73.5" stroke="#383838" stroke-width="0.8" />
<line x1="143.3" y1="68.4" x2="138.3" y2="73.5" stroke="#383838" stroke-width="0.8" />
<line x1="145.4" y1="64" x2="147.5" y2="64" stroke="#383838" stroke-width="0.6" />
<path d="M144.5,35.5 Q145.5,33.8 147.4,35.6 L146.4,37.3 Q145,37.4 144.5,35.5 Z" fill="#fff" stroke="#383838" stroke-width="0.7"/>
<path d="M444.8,563.8 L448.4,563.6 L452,571 L448,578 L446,571 Z" fill="#fff"/>
<path d="M446.00,565.00 C446.12,566.12 446.37,569.25 446.70,571.70 C447.03,574.15 447.45,577.48 448.00,579.70 C448.55,581.92 449.88,583.67 450.00,585.00 C450.12,586.33 449.48,587.03 448.70,587.70 C447.92,588.37 446.08,588.33 445.30,589.00 C444.52,589.67 444.10,590.82 444.00,591.70 C443.90,592.58 444.25,593.53 444.70,594.30 C445.15,595.07 445.90,595.68 446.70,596.30 C447.50,596.92 449.03,597.72 449.50,598.00" fill="none" stroke="#383838" stroke-width="0.8"/>
<path d="M447.80,564.60 C448.50,565.78 450.85,569.42 452.00,571.70 C453.15,573.98 454.03,576.42 454.70,578.30 C455.37,580.18 455.33,581.77 456.00,583.00 C456.67,584.23 457.58,585.15 458.70,585.70 C459.82,586.25 461.60,585.97 462.70,586.30 C463.80,586.63 464.87,587.47 465.30,587.70" fill="none" stroke="#383838" stroke-width="0.8"/>
<line x1="450.7" y1="587.7" x2="450.7" y2="598" stroke="#383838" stroke-width="0.8" />
<line x1="444" y1="593" x2="441.3" y2="597.5" stroke="#383838" stroke-width="0.8" />
<line x1="446" y1="590.5" x2="447.8" y2="590.5" stroke="#383838" stroke-width="0.6" />
<path d="M445,564.4 Q446,562.8 447.8,564.5 L446.9,566 Q445.5,566.1 445,564.4 Z" fill="#fff" stroke="#383838" stroke-width="0.7"/>
<path d="M192.40,15.60 C192.73,17.00 194.13,21.27 194.40,24.00 C194.67,26.73 194.73,29.07 194.00,32.00 C193.27,34.93 191.00,39.68 190.00,41.60 C189.00,43.52 188.33,43.18 188.00,43.50" fill="none" stroke="#383838" stroke-width="0.9" stroke-dasharray="4 0.6"/>
<path d="M182,49.2 L186.2,42.2 L189.6,45 Z" fill="#1a1a1a"/>
<path d="M497.20,587.60 C497.72,586.33 499.63,582.43 500.30,580.00 C500.97,577.57 501.28,575.33 501.20,573.00 C501.12,570.67 500.37,567.83 499.80,566.00 C499.23,564.17 498.13,562.67 497.80,562.00" fill="none" stroke="#383838" stroke-width="0.9" stroke-dasharray="4 0.6"/>
<path d="M494.8,557.6 L496.4,564.8 L500,563 Z" fill="#1a1a1a"/>
<text x="0" y="0" font-family="Liberation Serif" font-size="14.5" fill="#1a1a1a" transform="translate(173.2,66.6) scale(0.78,1)">OFF</text>
<text x="0" y="0" font-family="Liberation Serif" font-size="12" fill="#1a1a1a" transform="translate(470.2,593.5) scale(0.74,1)">ON</text>
</svg>
</body></html>
